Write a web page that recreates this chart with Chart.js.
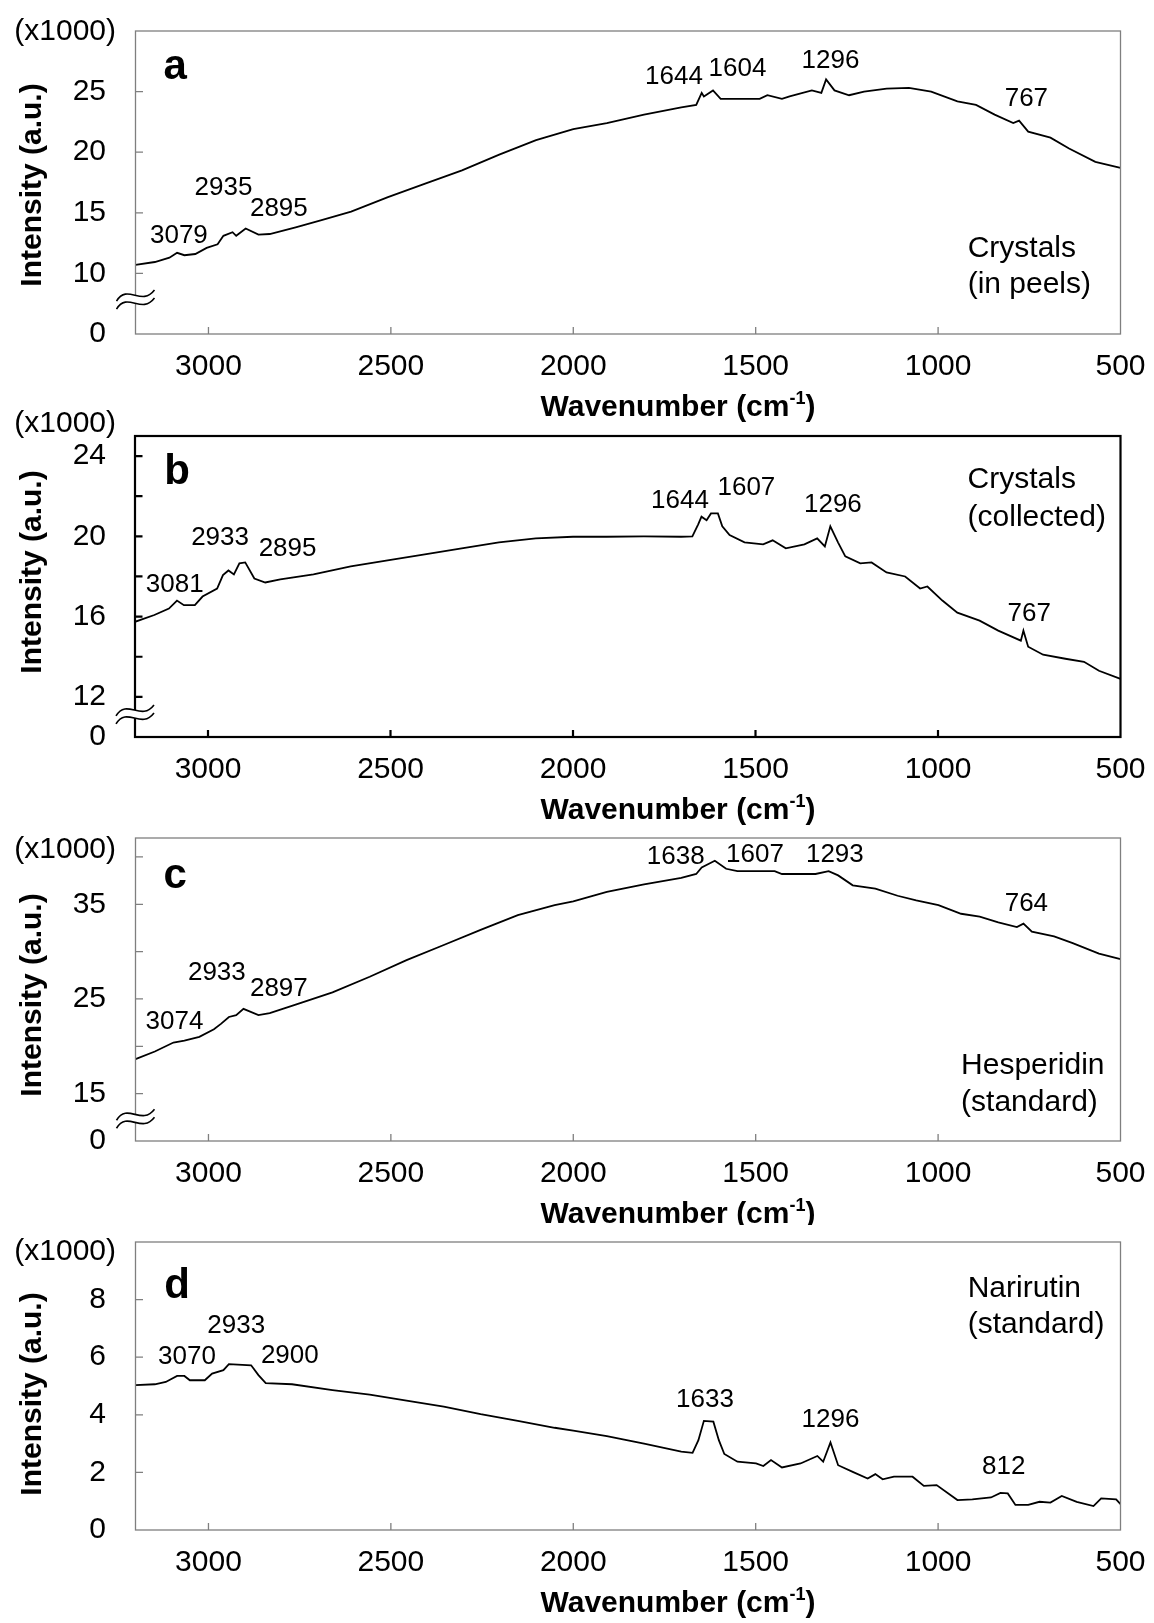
<!DOCTYPE html>
<html><head><meta charset="utf-8">
<script src="https://cdn.jsdelivr.net/npm/chart.js@4/dist/chart.umd.min.js"></script>
<style>
html,body{margin:0;padding:0;background:#fff;}
body{width:1154px;height:1623px;position:relative;overflow:hidden;}
canvas{position:absolute;left:0;}
</style></head><body>
<canvas id="ca"></canvas><canvas id="cb"></canvas><canvas id="cc"></canvas><canvas id="cd"></canvas>
<script>
// ---------- shared axis data ----------
const xTickValues = [500, 1000, 1500, 2000, 2500, 3000];
const xTickLabels = ['500', '1000', '1500', '2000', '2500', '3000'];

// ---------- panel a : Crystals (in peels) ----------
const wnA  = [3200,3147,3107,3086,3066,3036,3005,2975,2959,2934,2924,2898,2863,2832,2761,2690,2609,2508,2406,2305,2203,2102,2000,1908,1806,1704,1663,1648,1642,1617,1596,1560,1489,1468,1428,1407,1346,1320,1307,1284,1244,1203,1141,1080,1019,947,896,845,794,778,753,692,641,569,500];
const intA = [10.7,10.94,11.3,11.7,11.5,11.6,12.1,12.4,13.1,13.4,13.1,13.7,13.2,13.25,13.8,14.4,15.1,16.3,17.4,18.5,19.8,21.0,21.9,22.4,23.1,23.7,23.9,24.9,24.6,25.1,24.4,24.4,24.4,24.7,24.4,24.6,25.1,24.9,26.0,25.1,24.7,25.0,25.25,25.3,25.0,24.2,23.9,23.1,22.4,22.6,21.7,21.2,20.3,19.2,18.7];
const yTickValuesA = [5, 10, 15, 20, 25];
const yTickLabelsA = ['0', '10', '15', '20', '25'];
const peakTextA = ['3079', '2935', '2895', '1644', '1604', '1296', '767'];
const sampleTextA = ['Crystals', '(in peels)'];

// ---------- panel b : Crystals (collected) ----------
const wnB  = [3200,3147,3107,3085,3066,3036,3015,2975,2959,2944,2929,2914,2898,2873,2843,2802,2711,2609,2508,2406,2305,2203,2102,2000,1908,1806,1704,1673,1657,1648,1634,1622,1603,1591,1571,1530,1479,1453,1417,1366,1331,1310,1295,1274,1254,1213,1182,1141,1090,1049,1029,988,947,886,835,773,766,753,712,651,600,559,500];
const intB = [15.74,16.08,16.4,16.8,16.57,16.57,17.0,17.4,18.07,18.3,18.1,18.65,18.7,17.9,17.7,17.85,18.1,18.5,18.8,19.1,19.4,19.7,19.9,19.98,19.98,20.0,19.98,20.0,20.6,20.98,20.8,21.14,21.14,20.5,20.06,19.7,19.6,19.8,19.4,19.6,19.9,19.5,20.5,19.7,19.0,18.65,18.7,18.2,18.0,17.4,17.5,16.8,16.2,15.8,15.3,14.8,15.3,14.5,14.1,13.9,13.75,13.3,12.9];
const yTickValuesB = [10, 12, 14, 16, 18, 20, 22, 24];
const yTickLabelsB = ['0', '12', '', '16', '', '20', '', '24'];
const peakTextB = ['3081', '2933', '2895', '1644', '1607', '1296', '767'];
const sampleTextB = ['Crystals', '(collected)'];

// ---------- panel c : Hesperidin (standard) ----------
const wnC  = [3200,3147,3096,3066,3025,2985,2965,2944,2924,2904,2863,2832,2761,2660,2558,2457,2355,2254,2152,2051,2000,1908,1806,1704,1663,1648,1612,1581,1550,1448,1428,1336,1300,1274,1234,1172,1111,1060,999,937,886,835,784,766,743,682,631,559,500];
const intC = [18.65,19.45,20.4,20.6,21.0,21.8,22.4,23.1,23.3,23.95,23.3,23.5,24.4,25.7,27.35,29.1,30.7,32.3,33.85,34.9,35.3,36.3,37.1,37.8,38.2,38.9,39.6,38.75,38.5,38.5,38.2,38.2,38.5,38.05,37.0,36.65,35.9,35.4,34.9,34.0,33.7,33.1,32.6,32.96,32.1,31.6,30.9,29.8,29.2];
const yTickValuesC = [10, 15, 20, 25, 30, 35, 40];
const yTickLabelsC = ['0', '15', '', '25', '', '35', ''];
const peakTextC = ['3074', '2933', '2897', '1638', '1607', '1293', '764'];
const sampleTextC = ['Hesperidin', '(standard)'];

// ---------- panel d : Narirutin (standard) ----------
const wnD  = [3200,3147,3117,3086,3066,3051,3010,2990,2959,2944,2883,2863,2843,2771,2660,2558,2457,2355,2254,2152,2051,2000,1908,1806,1704,1673,1657,1642,1616,1601,1586,1550,1499,1479,1458,1428,1377,1331,1315,1295,1274,1234,1193,1172,1152,1121,1070,1039,1004,947,906,855,829,809,788,753,722,692,661,620,574,553,512,500];
const intD = [5.03,5.06,5.14,5.35,5.35,5.2,5.2,5.43,5.55,5.76,5.72,5.38,5.1,5.06,4.86,4.7,4.49,4.28,4.02,3.79,3.55,3.45,3.26,3.0,2.72,2.68,3.12,3.79,3.76,3.12,2.64,2.37,2.31,2.22,2.43,2.17,2.31,2.57,2.37,3.04,2.25,2.02,1.79,1.94,1.76,1.85,1.85,1.53,1.56,1.04,1.06,1.13,1.29,1.27,0.87,0.87,0.98,0.95,1.18,0.98,0.83,1.1,1.06,0.9];
const yTickValuesD = [0, 2, 4, 6, 8];
const yTickLabelsD = ['0', '2', '4', '6', '8'];
const peakTextD = ['3070', '2933', '2900', '1633', '1296', '812'];
const sampleTextD = ['Narirutin', '(standard)'];

// ---------- layout (positions / styles) ----------
const FONT = '"Liberation Sans", Arial, Helvetica, sans-serif';
const panels = [
  { id:'ca', ct:0, ch:425, top:31, bottom:334, left:135.5, right:1120.5, ymin:5, ymax:30,
    wn:wnA, val:intA, yTicks:yTickValuesA, yLabels:yTickLabelsA,
    frame:'#7f7f7f', frameW:1.3, breakAt:7.8, unitDy:1, yTitleY:185, letter:'a', letterPos:[3091,26.97],
    peaks:peakTextA, peakPos:[[3081,13.1],[2959,17.1],[2807,15.33],[1724,26.25],[1550,26.9],[1295,27.5],[758,24.4]],
    sample:sampleTextA, samplePos:[[919,12.0],[919,9.03]] },
  { id:'cb', ct:400, ch:425, top:436, bottom:737, left:135, right:1120.5, ymin:10, ymax:25,
    wn:wnB, val:intB, yTicks:yTickValuesB, yLabels:yTickLabelsB,
    frame:'#000', frameW:2.2, breakAt:11.1, unitDy:-12.5, yTitleY:572, letter:'b', letterPos:[3085,23.2],
    peaks:peakTextB, peakPos:[[3091,17.57],[2967,19.95],[2782,19.37],[1707,21.77],[1525,22.44],[1288,21.56],[750,16.16]],
    sample:sampleTextB, samplePos:[[919,22.8],[919,20.94]] },
  { id:'cc', ct:810, ch:415, top:838, bottom:1141, left:135.5, right:1120.5, ymin:10, ymax:42,
    wn:wnC, val:intC, yTicks:yTickValuesC, yLabels:yTickLabelsC,
    frame:'#7f7f7f', frameW:1.3, breakAt:12.3, unitDy:12, yTitleY:995, letter:'c', letterPos:[3091,37.98],
    peaks:peakTextC, peakPos:[[3093,22.54],[2977,27.77],[2807,26.12],[1719,40.05],[1502,40.26],[1283,40.26],[758,35.07]],
    sample:sampleTextC, samplePos:[[937,17.98],[937,14.0]] },
  { id:'cd', ct:1215, ch:408, top:1242, bottom:1530, left:135.5, right:1120.5, ymin:0, ymax:10,
    wn:wnD, val:intD, yTicks:yTickValuesD, yLabels:yTickLabelsD,
    frame:'#7f7f7f', frameW:1.3, breakAt:null, unitDy:10, yTitleY:1394, letter:'d', letterPos:[3086,8.46],
    peaks:peakTextD, peakPos:[[3059,6.01],[2924,7.08],[2777,6.05],[1639,4.51],[1295,3.82],[820,2.2]],
    sample:sampleTextD, samplePos:[[919,8.36],[919,7.11]] }
];

function makeDecor(p) {
  return {
    id: 'decor_' + p.id,
    afterDraw(chart) {
      const ctx = chart.ctx, ca = chart.chartArea, xs = chart.scales.x, ys = chart.scales.y;
      ctx.save();
      // inward tick marks
      ctx.strokeStyle = p.frame; ctx.lineWidth = p.frameW;
      ctx.beginPath();
      xTickValues.forEach(v => {
        const px = xs.getPixelForValue(v);
        if (px > ca.left + 2 && px < ca.right - 2) { ctx.moveTo(px, ca.bottom); ctx.lineTo(px, ca.bottom - 7); }
      });
      p.yTicks.forEach(v => {
        const py = ys.getPixelForValue(v);
        if (py > ca.top + 2 && py < ca.bottom - 2) { ctx.moveTo(ca.left, py); ctx.lineTo(ca.left + 7.5, py); }
      });
      ctx.stroke();
      // frame
      ctx.strokeRect(ca.left, ca.top, ca.right - ca.left, ca.bottom - ca.top);
      // axis break symbol
      if (p.breakAt !== null) {
        const cy = ys.getPixelForValue(p.breakAt), cx = ca.left;
        const curve = (dy, move) => {
          if (move) ctx.moveTo(cx - 19, cy + dy + 5); else ctx.lineTo(cx - 19, cy + dy + 5);
          ctx.bezierCurveTo(cx - 8, cy + dy - 13, cx + 6, cy + dy + 11, cx + 19, cy + dy - 6);
        };
        ctx.beginPath();
        curve(-4, true);
        ctx.lineTo(cx + 19, cy + 4 - 6);
        ctx.bezierCurveTo(cx + 6, cy + 4 + 11, cx - 8, cy + 4 - 13, cx - 19, cy + 4 + 5);
        ctx.closePath();
        ctx.fillStyle = '#fff'; ctx.fill();
        ctx.strokeStyle = '#000'; ctx.lineWidth = 1.6;
        ctx.beginPath(); curve(-4, true); ctx.stroke();
        ctx.beginPath(); curve(4, true); ctx.stroke();
      }
      ctx.fillStyle = '#000';
      // (x1000)
      ctx.font = '30px ' + FONT; ctx.textAlign = 'right'; ctx.textBaseline = 'middle';
      ctx.fillText('(x1000)', 116, ca.top + p.unitDy);
      // y title
      ctx.save();
      ctx.translate(33, p.yTitleY - p.ct);
      ctx.rotate(-Math.PI / 2);
      ctx.font = 'bold 30px ' + FONT; ctx.textAlign = 'center'; ctx.textBaseline = 'middle';
      ctx.fillText('Intensity (a.u.)', 0, 0);
      ctx.restore();
      // x title with superscript
      const ty = ca.bottom + 71, tcx = 678;
      const f1 = 'bold 30px ' + FONT, f2 = 'bold 18px ' + FONT;
      ctx.textBaseline = 'alphabetic'; ctx.textAlign = 'left';
      ctx.font = f1; const w1 = ctx.measureText('Wavenumber (cm').width, w3 = ctx.measureText(')').width;
      ctx.font = f2; const w2 = ctx.measureText('-1').width;
      let x0 = tcx - (w1 + w2 + w3) / 2; const base = ty + 11;
      ctx.font = f1; ctx.fillText('Wavenumber (cm', x0, base);
      ctx.font = f2; ctx.fillText('-1', x0 + w1, base - 12);
      ctx.font = f1; ctx.fillText(')', x0 + w1 + w2, base);
      // panel letter
      ctx.font = 'bold 42px ' + FONT; ctx.textAlign = 'center'; ctx.textBaseline = 'middle';
      ctx.fillText(p.letter, xs.getPixelForValue(p.letterPos[0]), ys.getPixelForValue(p.letterPos[1]));
      // peak labels
      ctx.font = '26px ' + FONT;
      p.peaks.forEach((t, i) => {
        ctx.fillText(t, xs.getPixelForValue(p.peakPos[i][0]), ys.getPixelForValue(p.peakPos[i][1]));
      });
      // sample labels
      ctx.font = '30px ' + FONT; ctx.textAlign = 'left';
      p.sample.forEach((t, i) => {
        ctx.fillText(t, xs.getPixelForValue(p.samplePos[i][0]), ys.getPixelForValue(p.samplePos[i][1]));
      });
      ctx.restore();
    }
  };
}

function makePanel(p) {
  const cv = document.getElementById(p.id);
  cv.width = 1154; cv.height = p.ch; cv.style.top = p.ct + 'px';
  cv.style.width = '1154px'; cv.style.height = p.ch + 'px';
  const pts = p.wn.map((w, i) => ({ x: w, y: p.val[i] }));
  new Chart(cv, {
    type: 'line',
    data: { datasets: [{ data: pts, borderColor: '#000', borderWidth: 1.8, pointRadius: 0, tension: 0, fill: false }] },
    options: {
      responsive: false, animation: false, devicePixelRatio: 1,
      layout: { padding: { top: p.top - p.ct, right: 1154 - p.right, left: 0, bottom: 0 } },
      plugins: { legend: { display: false }, tooltip: { enabled: false } },
      scales: {
        x: {
          type: 'linear', reverse: true, min: 500, max: 3200,
          grid: { display: false, drawTicks: false }, border: { display: false },
          afterBuildTicks: s => { s.ticks = xTickValues.map(v => ({ value: v })); },
          ticks: { padding: 15, color: '#000', font: { family: FONT, size: 30 }, maxRotation: 0, autoSkip: false,
                   callback: v => xTickLabels[xTickValues.indexOf(v)] },
          afterFit: s => { s.height = p.ct + p.ch - p.bottom; s.paddingLeft = 0; s.paddingRight = 0; }
        },
        y: {
          type: 'linear', min: p.ymin, max: p.ymax,
          grid: { display: false, drawTicks: false }, border: { display: false },
          afterBuildTicks: s => { s.ticks = p.yTicks.map(v => ({ value: v })); },
          ticks: { padding: p.left - 106, color: '#000', font: { family: FONT, size: 30 }, autoSkip: false,
                   callback: v => p.yLabels[p.yTicks.indexOf(v)] },
          afterFit: s => { s.width = p.left; s.paddingTop = 0; s.paddingBottom = 0; }
        }
      }
    },
    plugins: [makeDecor(p)]
  });
}
panels.forEach(makePanel);
</script>
</body></html>
